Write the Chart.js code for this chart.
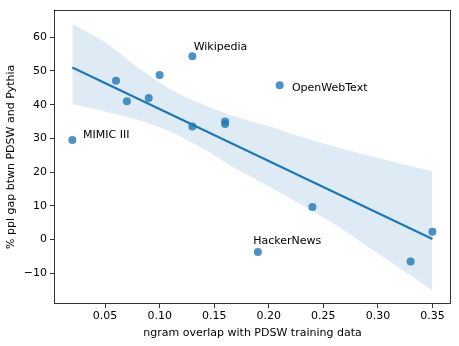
<!DOCTYPE html>
<html>
<head>
<meta charset="utf-8">
<script src="https://cdn.jsdelivr.net/npm/chart.js@4.4.1/dist/chart.umd.min.js"></script>
<style>
    html, body { margin: 0; padding: 0; background: #fff; }
    #wrap { width: 459px; height: 346px; }
</style>
</head>
<body>
<div id="wrap"><canvas id="gapChart"></canvas></div>
<script>
    // ngram overlap vs ppl gap, one point per dataset
    var overlap = [0.02, 0.06, 0.07, 0.09, 0.10, 0.13, 0.13, 0.16, 0.16, 0.21, 0.24, 0.19, 0.33, 0.35];
    var pplGap  = [29.5, 47.1, 41.0, 42.0, 48.8, 54.4, 33.5, 35.0, 34.3, 45.8, 9.7, -3.7, -6.5, 2.3];

    // fitted line end points
    var fitX = [0.02, 0.35];
    var fitY = [51.0, 0.2];

    // confidence band
    var bandX     = [0.02, 0.05, 0.08, 0.11, 0.14, 0.17, 0.20, 0.23, 0.26, 0.29, 0.32, 0.35];
    var bandUpper = [63.9, 58.5, 51.0, 44.5, 40.0, 36.4, 33.6, 30.4, 27.6, 25.0, 22.6, 20.3];
    var bandLower = [40.2, 38.0, 35.5, 32.0, 27.0, 21.0, 15.8, 10.3, 4.6, -1.9, -8.4, -15.0];

    var xTicks = [0.05, 0.10, 0.15, 0.20, 0.25, 0.30, 0.35];
    var yTicks = [-10, 0, 10, 20, 30, 40, 50, 60];

    // labelled datasets
    var labelNames = ['Wikipedia', 'OpenWebText', 'MIMIC III', 'HackerNews'];
    var labelX = [0.1312, 0.2212, 0.0298, 0.1858];
    var labelY = [57.2, 45.0, 30.9, -0.4];

    var blue = '#1f77b4';
    var font = "'DejaVu Sans', sans-serif";
    var fs = 11;

    function zip(xs, ys) {
        return xs.map(function (x, i) { return { x: x, y: ys[i] }; });
    }

    function fmtX(v) { return v.toFixed(2); }
    function fmtY(v) { return String(v).replace('-', '\u2212'); }

    var frame = {
        id: 'frame',
        afterDatasetsDraw: function (chart) {
            var ctx = chart.ctx, a = chart.chartArea;
            var sx = chart.scales.x, sy = chart.scales.y;
            ctx.save();
            ctx.font = fs + 'px ' + font;
            ctx.fillStyle = '#000';
            ctx.textAlign = 'left';
            ctx.textBaseline = 'middle';
            labelNames.forEach(function (name, i) {
                ctx.fillText(name, sx.getPixelForValue(labelX[i]), sy.getPixelForValue(labelY[i]));
            });
            ctx.strokeStyle = '#000';
            ctx.lineWidth = 0.8;
            ctx.strokeRect(Math.round(a.left) + 0.5, Math.round(a.top) + 0.5,
                Math.round(a.right - a.left) - 1, Math.round(a.bottom - a.top) - 1);
            ctx.restore();
        }
    };

    new Chart(document.getElementById('gapChart'), {
        type: 'scatter',
        data: {
            datasets: [
                {
                    label: 'points',
                    data: zip(overlap, pplGap),
                    backgroundColor: 'rgba(31,119,180,0.8)',
                    borderWidth: 0,
                    pointRadius: 4,
                    order: 0
                },
                {
                    label: 'fit',
                    type: 'line',
                    data: zip(fitX, fitY),
                    borderColor: blue,
                    borderWidth: 2.2,
                    pointRadius: 0,
                    fill: false,
                    order: 1
                },
                {
                    label: 'upper',
                    type: 'line',
                    data: zip(bandX, bandUpper),
                    borderWidth: 0,
                    borderColor: 'rgba(0,0,0,0)',
                    pointRadius: 0,
                    tension: 0.2,
                    fill: false,
                    order: 2
                },
                {
                    label: 'lower',
                    type: 'line',
                    data: zip(bandX, bandLower),
                    borderWidth: 0,
                    borderColor: 'rgba(0,0,0,0)',
                    backgroundColor: 'rgba(31,119,180,0.15)',
                    pointRadius: 0,
                    tension: 0.2,
                    fill: '-1',
                    order: 3
                }
            ]
        },
        options: {
            responsive: true,
            maintainAspectRatio: false,
            animation: false,
            layout: { padding: { left: 0, right: 8, top: 7, bottom: 0 } },
            plugins: {
                legend: { display: false },
                tooltip: { enabled: false }
            },
            scales: {
                x: {
                    type: 'linear',
                    min: 0.0032,
                    max: 0.367,
                    afterBuildTicks: function (axis) {
                        axis.ticks = xTicks.map(function (v) { return { value: v }; });
                    },
                    afterFit: function (axis) { axis.height = 42; },
                    grid: { drawOnChartArea: false, tickLength: 4, color: '#000', tickWidth: 0.8 },
                    border: { display: false },
                    ticks: {
                        color: '#000',
                        padding: 2,
                        maxRotation: 0,
                        font: { family: font, size: fs },
                        callback: fmtX
                    },
                    title: {
                        display: true,
                        text: 'ngram overlap with PDSW training data',
                        color: '#000',
                        font: { family: font, size: fs },
                        padding: { top: 2, bottom: 6 }
                    }
                },
                y: {
                    type: 'linear',
                    min: -19.1,
                    max: 68.2,
                    afterBuildTicks: function (axis) {
                        axis.ticks = yTicks.map(function (v) { return { value: v }; });
                    },
                    afterFit: function (axis) { axis.width = 54; },
                    grid: { drawOnChartArea: false, tickLength: 4, color: '#000', tickWidth: 0.8 },
                    border: { display: false },
                    ticks: {
                        color: '#000',
                        padding: 3,
                        font: { family: font, size: fs },
                        callback: fmtY
                    },
                    title: {
                        display: true,
                        text: '% ppl gap btwn PDSW and Pythia',
                        color: '#000',
                        font: { family: font, size: fs },
                        padding: { top: 5, bottom: 4 }
                    }
                }
            }
        },
        plugins: [frame]
    });
</script>
</body>
</html>
